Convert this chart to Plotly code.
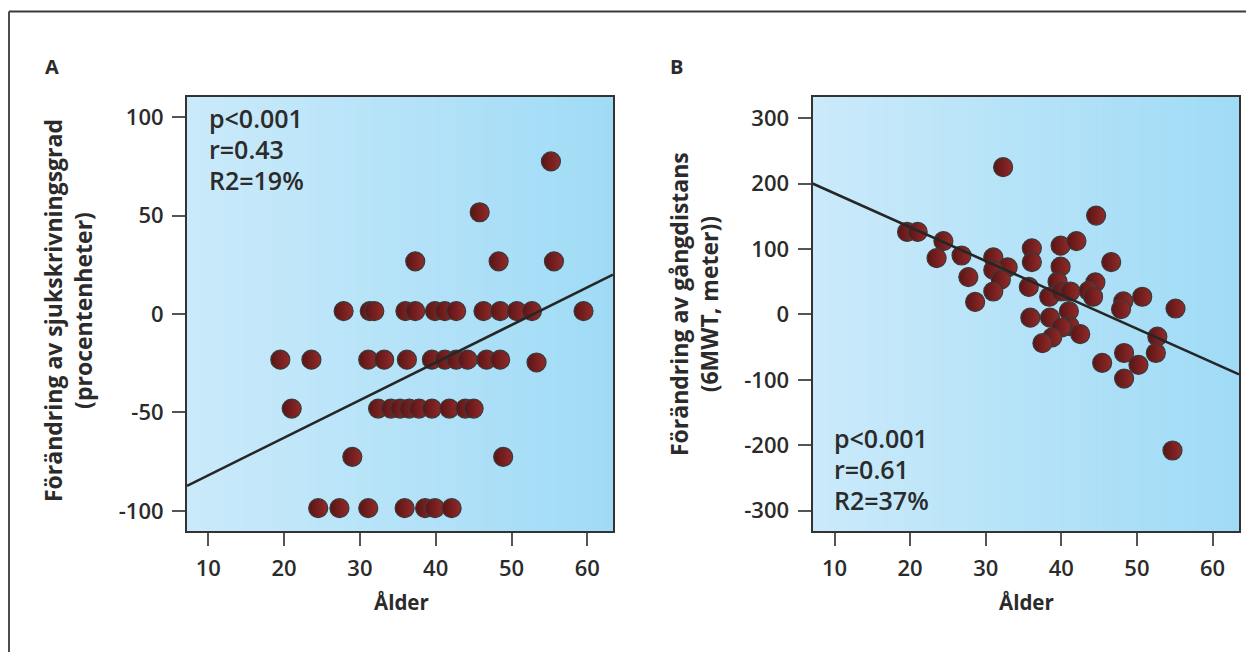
import plotly.graph_objects as go

# page is offset by the 8px body margin; the figure fills the rest of the window
OFF = 8
W, H = 1254 - OFF, 652 - OFF

# ---------------- Data ----------------
# Panel A: age vs change in sick-leave degree (percentage points)
age_A = [55.2, 45.8,
         37.3, 48.3, 55.6,
         27.85, 31.3, 31.9, 36.0, 37.3, 39.9, 41.2, 42.7, 46.3, 48.5, 50.7, 52.7, 59.5,
         19.5, 23.6, 31.1, 33.2, 36.2, 39.5, 41.2, 42.7, 44.2, 46.7, 48.5, 53.3,
         21.0, 32.4, 34.1, 35.3, 36.5, 37.8, 39.5, 41.8, 43.9, 45.0,
         29.0, 48.9,
         24.5, 27.3, 31.1, 35.9, 38.6, 39.9, 42.1]
change_A = [77.5, 51.7,
            26.8, 26.8, 26.8,
            1.5, 1.5, 1.5, 1.5, 1.5, 1.5, 1.5, 1.5, 1.5, 1.5, 1.5, 1.5, 1.5,
            -23.2, -23.2, -23.2, -23.2, -23.2, -23.2, -23.2, -23.2, -23.2, -23.2, -23.2, -24.6,
            -48.0, -48.0, -48.0, -48.0, -48.0, -48.0, -48.0, -48.0, -48.0, -48.0,
            -72.5, -72.5,
            -98.6, -98.6, -98.6, -98.6, -98.6, -98.6, -98.6]

# Panel B: age vs change in walking distance (6MWT, meter)
age_B = [19.6, 21.0, 24.4, 23.5, 26.8, 31.0, 32.9, 31.0, 32.0, 27.7, 31.0, 28.6,
         32.3, 36.1, 36.1, 39.9, 42.0, 46.6, 44.6, 35.7, 39.9, 39.5, 38.4, 40.0,
         41.2, 44.5, 43.6, 44.2, 48.2, 47.9, 50.7, 55.1, 41.0, 35.9, 38.5, 41.1,
         40.0, 42.5, 38.8, 37.5, 52.7, 52.5, 48.3, 45.4, 50.2, 48.3, 54.7]
change_B = [126, 126, 112, 86, 90, 87, 72, 68, 53, 57, 35, 19,
            225, 101, 80, 105, 112, 80, 151, 42, 73, 50, 27, 35,
            35, 49, 36, 27, 20, 8, 27, 9, 5, -5, -5, -18,
            -20, -30, -35, -44, -34, -59, -59, -74, -77, -98, -208]

# Regression lines (intercept, slope)
reg_A = (-101.0, 1.909)
reg_B = (236.7, -5.17)

stats_A = ["p<0.001", "r=0.43", "R2=19%"]
stats_B = ["p<0.001", "r=0.61", "R2=37%"]

xticks = [10, 20, 30, 40, 50, 60]
yticks_A = [-100, -50, 0, 50, 100]
yticks_B = [-300, -200, -100, 0, 100, 200, 300]

xlabel = "Ålder"
ylabel_A = "Förändring av sjukskrivningsgrad<br>(procentenheter)"
ylabel_B = "Förändring av gångdistans<br>(6MWT, meter))"
panel_labels = ["A", "B"]

# ---------------- Layout geometry ----------------
xrange_A = [7.19, 63.39]
yrange_A = [-110.2, 110.5]
xrange_B = [7.09, 63.5]
yrange_B = [-331, 333]


def px(x):
    return (x - OFF) / W


def py(y):
    return 1 - (y - OFF) / H


domA = [px(187), px(613)]
domB = [px(812.5), px(1239)]
domY = [py(531), py(96.5)]

FONT = "Open Sans"
TXT = "#2b2b2b"

fig = go.Figure()

marker = dict(size=19, color="#5a1414",
              gradient=dict(type="horizontal", color="#922a2a"),
              line=dict(color="#3a3a3a", width=1.2))

fig.add_trace(go.Scatter(x=age_A, y=change_A, mode="markers", marker=marker,
                         xaxis="x", yaxis="y", showlegend=False, hoverinfo="x+y"))
fig.add_trace(go.Scatter(x=age_B, y=change_B, mode="markers", marker=marker,
                         xaxis="x2", yaxis="y2", showlegend=False, hoverinfo="x+y"))

for (a, b), xr, xa, ya in [(reg_A, xrange_A, "x", "y"), (reg_B, xrange_B, "x2", "y2")]:
    xs = [xr[0], xr[1]]
    ys = [a + b * v for v in xs]
    fig.add_trace(go.Scatter(x=xs, y=ys, mode="lines", line=dict(color="#262626", width=2.6),
                             xaxis=xa, yaxis=ya, showlegend=False, hoverinfo="skip", cliponaxis=True))


# background gradient strips
def lerp(c1, c2, t):
    return "rgb(%d,%d,%d)" % tuple(round(c1[i] + (c2[i] - c1[i]) * t) for i in range(3))


c_left = (202, 234, 250)
c_right = (160, 219, 246)
shapes = []
N = 60
for xref, yref in [("x domain", "y domain"), ("x2 domain", "y2 domain")]:
    for i in range(N):
        t = i / (N - 1)
        shapes.append(dict(type="rect", xref=xref, yref=yref, x0=i / N, x1=(i + 1) / N + 0.002,
                           y0=0, y1=1, line=dict(width=0), fillcolor=lerp(c_left, c_right, t),
                           layer="below"))

# outer frame (top and left lines)
shapes.append(dict(type="line", xref="paper", yref="paper", x0=px(9), x1=1.01, y0=py(11.5), y1=py(11.5),
                   line=dict(color="#3a3a3a", width=1.8)))
shapes.append(dict(type="line", xref="paper", yref="paper", x0=px(9), x1=px(9), y0=-0.01, y1=py(11.5),
                   line=dict(color="#3a3a3a", width=1.8)))

axis_common = dict(showgrid=False, zeroline=False, showline=True, mirror=True,
                   linecolor="#333333", linewidth=2, ticks="outside", ticklen=13,
                   tickcolor="#555555", tickwidth=1.5, ticklabelstandoff=4,
                   tickfont=dict(family=FONT, size=22, color=TXT, weight=600))

fig.update_layout(
    width=W, height=H,
    margin=dict(l=0, r=0, t=0, b=0),
    paper_bgcolor="white", plot_bgcolor="rgba(0,0,0,0)",
    showlegend=False,
    xaxis=dict(domain=domA, range=xrange_A, tickvals=xticks, ticktext=[str(v) for v in xticks],
               anchor="y", **axis_common),
    yaxis=dict(domain=domY, range=yrange_A, tickvals=yticks_A, ticktext=[str(v) for v in yticks_A],
               anchor="x", **axis_common),
    xaxis2=dict(domain=domB, range=xrange_B, tickvals=xticks, ticktext=[str(v) for v in xticks],
                anchor="y2", **axis_common),
    yaxis2=dict(domain=domY, range=yrange_B, tickvals=yticks_B, ticktext=[str(v) for v in yticks_B],
                anchor="x2", **axis_common),
    shapes=shapes,
)

ann = []


def pa(x, y, text, size, weight="bold", angle=0, xanchor="center", yanchor="middle", align="center"):
    ann.append(dict(xref="paper", yref="paper", x=px(x), y=py(y), text=text, showarrow=False,
                    textangle=angle, xanchor=xanchor, yanchor=yanchor, align=align,
                    font=dict(family=FONT, size=size, color=TXT, weight=weight)))


pa(52, 67, panel_labels[0], 20)
pa(677, 67, panel_labels[1], 20)
pa(401, 602, xlabel, 20.5)
pa(1026, 602, xlabel, 20.5)
pa(68, 311, ylabel_A, 23, angle=-90)
pa(694, 304, ylabel_B, 23, angle=-90)

for i, t in enumerate(stats_A):
    pa(207, 118 + 31 * i, t, 25, weight=600, xanchor="left")
for i, t in enumerate(stats_B):
    pa(832, 438 + 31 * i, t, 25, weight=600, xanchor="left")

fig.update_layout(annotations=ann)

fig.write_html("out.html")
